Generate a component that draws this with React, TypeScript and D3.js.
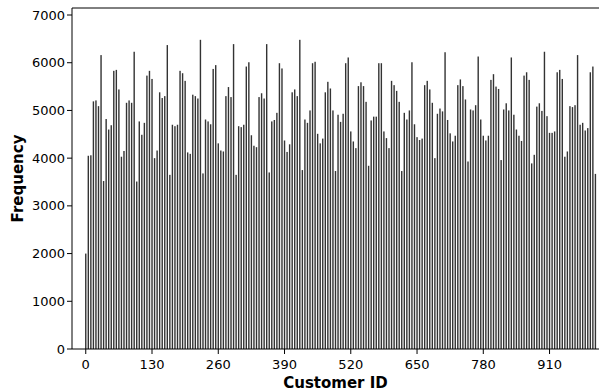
import React from "react";
import { scaleLinear } from "d3";

// frequency per customer-id bin (bins of 5, starting at 0)
const binWidth = 5;
const frequencies = [
  2000, 4050, 4060, 5190, 5210, 5090, 6160, 3520, 4820, 4600,
  4690, 5830, 5850, 5440, 4030, 4150, 5160, 5210, 5160, 6230,
  3510, 4770, 4490, 4740, 5730, 5830, 5660, 4000, 4160, 5380,
  5260, 5300, 6370, 3650, 4700, 4670, 4700, 5830, 5780, 5620,
  4120, 4090, 5330, 5300, 5250, 6480, 3680, 4810, 4770, 4710,
  5870, 5950, 4310, 4160, 4140, 5300, 5490, 5280, 6390, 3650,
  4670, 4650, 4700, 5920, 6010, 4480, 4260, 4230, 5280, 5360,
  5250, 6390, 3700, 4770, 4800, 4950, 5990, 5880, 4370, 4130,
  4290, 5380, 5440, 5300, 6480, 3750, 4810, 4740, 5000, 5990,
  6020, 4510, 4310, 4410, 5380, 5600, 5460, 5000, 3730, 4910,
  4760, 4930, 5990, 6110, 4560, 4350, 4210, 5510, 5590, 5510,
  5180, 3840, 4790, 4870, 4870, 5990, 5990, 4560, 4420, 4210,
  5620, 5530, 5410, 5180, 3730, 4950, 4810, 5000, 6010, 4710,
  4440, 4380, 4410, 5530, 5620, 5440, 5160, 4000, 4930, 5040,
  4980, 6220, 4800, 4520, 4350, 4470, 5530, 5650, 5510, 5230,
  3930, 5020, 5000, 5110, 6130, 4810, 4470, 4370, 4470, 5640,
  5760, 5500, 5450, 3960, 5020, 5150, 5000, 6110, 4910, 4600,
  4470, 4360, 5730, 5800, 5640, 3890, 4070, 5080, 5150, 4990,
  6230, 4880, 4530, 4530, 4560, 5800, 5850, 5660, 4030, 4140,
  5090, 5070, 5110, 6160, 4700, 4740, 4580, 4630, 5800, 5920,
  3670,
];
const xTicks = [0, 130, 260, 390, 520, 650, 780, 910];
const yTicks = [0, 1000, 2000, 3000, 4000, 5000, 6000, 7000];

export default function App() {
  const width = 599,
    height = 392;
  const left = 72,
    right = 600,
    top = 8,
    bottom = 349;

  const x = scaleLinear().domain([-27, 1009]).range([left, right]);
  const y = scaleLinear().domain([0, 7147]).range([bottom, top]);

  const font = "'DejaVu Sans', Verdana, sans-serif";

  return (
    <svg
      width={width}
      height={height}
      style={{ position: "absolute", left: 0, top: 0, background: "#fff" }}
      fontFamily={font}
    >
      {/* bars */}
      {frequencies.map((f, i) => (
        <rect
          key={i}
          x={x(i * binWidth) - 0.7}
          y={y(f)}
          width={1.4}
          height={bottom - y(f)}
          fill="#333"
        />
      ))}

      {/* frame */}
      <path
        d={`M${right},${top}H${left}V${bottom}H${right}`}
        fill="none"
        stroke="#000"
        strokeWidth={1}
      />

      {/* y axis */}
      {yTicks.map(t => (
        <g key={t} transform={`translate(0,${y(t)})`}>
          <line x1={left - 5} x2={left} stroke="#000" />
          <text
            x={left - 7}
            dy="0.35em"
            textAnchor="end"
            fontSize={13}
            fill="#000"
          >
            {t}
          </text>
        </g>
      ))}

      {/* x axis */}
      {xTicks.map(t => (
        <g key={t} transform={`translate(${x(t)},${bottom})`}>
          <line y1={0} y2={5} stroke="#000" />
          <text y={20} textAnchor="middle" fontSize={13} fill="#000">
            {t}
          </text>
        </g>
      ))}

      <text
        x={(left + width) / 2}
        y={388}
        textAnchor="middle"
        fontSize={15}
        fontWeight="bold"
      >
        Customer ID
      </text>
      <text
        transform={`translate(23,${(top + bottom) / 2}) rotate(-90)`}
        textAnchor="middle"
        fontSize={15}
        fontWeight="bold"
      >
        Frequency
      </text>
    </svg>
  );
}
